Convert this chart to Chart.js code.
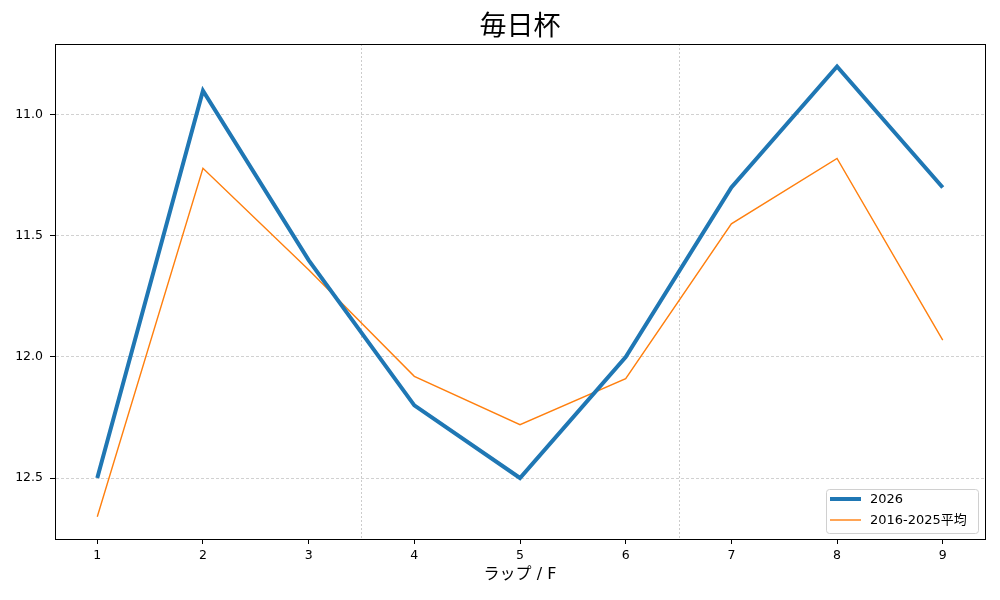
<!DOCTYPE html>
<html>
<head>
<meta charset="utf-8">
<script src="https://cdn.jsdelivr.net/npm/chart.js@4.4.1/dist/chart.umd.min.js"></script>
<style>
  html, body { margin: 0; padding: 0; background: #fff; }
  #wrap { width: 1000px; height: 600px; position: relative; }
</style>
</head>
<body>
<div id="wrap"><canvas id="chart"></canvas></div>
<script>
//------data
const laps = [1, 2, 3, 4, 5, 6, 7, 8, 9];
const lap2026 = [12.5, 10.9, 11.6, 12.2, 12.5, 12.0, 11.3, 10.8, 11.3];
const lapAvg = [12.66, 11.22, 11.64, 12.08, 12.28, 12.09, 11.45, 11.18, 11.93];
const yTicks = [11.0, 11.5, 12.0, 12.5];
const sectionBreaks = [3.5, 6.5];
const seriesNames = ['2026', '2016-2025平均'];
const chartTitle = '毎日杯';

const FONT = "'DejaVu Sans', 'Noto Sans CJK JP', sans-serif";
const CJK = "'Noto Sans CJK JP', sans-serif";

//------plugin: title, frame, section lines, legend
const decor = {
    id: 'decor',
    beforeDatasetsDraw(chart) {
        const { ctx, chartArea: a, scales: { x } } = chart;
        ctx.save();
        ctx.strokeStyle = 'rgba(0,0,0,0.25)';
        ctx.lineWidth = 0.8;
        ctx.setLineDash([2, 2]);
        sectionBreaks.forEach(v => {
            const px = Math.round(x.getPixelForValue(v)) + 0.5;
            ctx.beginPath();
            ctx.moveTo(px, a.top);
            ctx.lineTo(px, a.bottom);
            ctx.stroke();
        });
        ctx.restore();
    },
    afterDraw(chart) {
        const { ctx, chartArea: a } = chart;
        ctx.save();
        // title
        ctx.fillStyle = '#000';
        ctx.font = '27px ' + CJK;
        ctx.textAlign = 'center';
        ctx.textBaseline = 'middle';
        ctx.fillText(chartTitle, (a.left + a.right) / 2, 25);
        // frame
        ctx.strokeStyle = '#000';
        ctx.lineWidth = 1;
        ctx.strokeRect(Math.round(a.left) + 0.5, Math.round(a.top) + 0.5,
            Math.round(a.right - a.left), Math.round(a.bottom - a.top));
        // legend
        const bx = 826, by = 489, bw = 152, bh = 44;
        ctx.fillStyle = 'rgba(255,255,255,0.85)';
        ctx.strokeStyle = '#d0d0d0';
        ctx.beginPath();
        ctx.roundRect(bx + 0.5, by + 0.5, bw, bh, 3);
        ctx.fill();
        ctx.stroke();
        const ds = chart.data.datasets;
        ctx.font = '13px ' + FONT;
        ctx.textAlign = 'left';
        ctx.textBaseline = 'middle';
        ctx.fillStyle = '#000';
        ds.forEach((d, i) => {
            const yy = by + 10 + i * 21;
            ctx.strokeStyle = d.borderColor;
            ctx.lineWidth = d.borderWidth;
            ctx.beginPath();
            ctx.moveTo(bx + 4, yy);
            ctx.lineTo(bx + 35, yy);
            ctx.stroke();
            ctx.fillText(d.label, bx + 44, yy + 1);
        });
        ctx.restore();
    }
};

const trend = {
    datasets: [{
        label: seriesNames[0],
        data: laps.map((l, i) => ({ x: l, y: lap2026[i] })),
        borderColor: '#1f77b4',
        backgroundColor: '#1f77b4',
        borderWidth: 4,
    }, {
        label: seriesNames[1],
        data: laps.map((l, i) => ({ x: l, y: lapAvg[i] })),
        borderColor: '#ff7f0e',
        backgroundColor: '#ff7f0e',
        borderWidth: 1.4,
    }]
};

const config = {
    type: 'line',
    data: trend,
    options: {
        responsive: true,
        maintainAspectRatio: false,
        animation: false,
        elements: {
            point: { radius: 0 },
            line: { tension: 0 }
        },
        layout: {
            padding: { top: 44, right: 15, bottom: 0, left: 0 }
        },
        plugins: {
            legend: { display: false },
            tooltip: { enabled: false },
            title: { display: false }
        },
        scales: {
            x: {
                type: 'linear',
                min: 0.6,
                max: 9.4,
                afterBuildTicks: s => { s.ticks = laps.map(v => ({ value: v })); },
                afterFit: s => { s.height = 61; },
                ticks: {
                    color: '#000',
                    font: { family: FONT, size: 12.5 },
                    padding: 4,
                    maxRotation: 0,
                    callback: v => String(v)
                },
                grid: {
                    drawOnChartArea: false,
                    drawTicks: true,
                    tickLength: 5,
                    tickColor: '#000',
                    tickWidth: 1
                },
                border: { color: '#000', width: 1 },
                title: {
                    display: true,
                    text: 'ラップ / F',
                    color: '#000',
                    font: { family: FONT, size: 16, lineHeight: 1.2 },
                    padding: { top: 0, bottom: 16 }
                }
            },
            y: {
                type: 'linear',
                reverse: true,
                min: 10.707,
                max: 12.752,
                afterBuildTicks: s => { s.ticks = yTicks.map(v => ({ value: v })); },
                afterFit: s => { s.width = 55; },
                ticks: {
                    color: '#000',
                    font: { family: FONT, size: 12.5 },
                    padding: 7,
                    callback: v => Number(v).toFixed(1)
                },
                grid: {
                    color: 'rgba(0,0,0,0.3)',
                    lineWidth: 0.6,
                    tickLength: 5,
                    tickColor: '#000',
                    tickWidth: 1,
                    tickBorderDash: []
                },
                border: { color: '#000', width: 1, dash: [3, 2] }
            }
        }
    },
    plugins: [decor]
};

const chart = document.getElementById('chart');
const myChart = new Chart(chart, config);
</script>
</body>
</html>
